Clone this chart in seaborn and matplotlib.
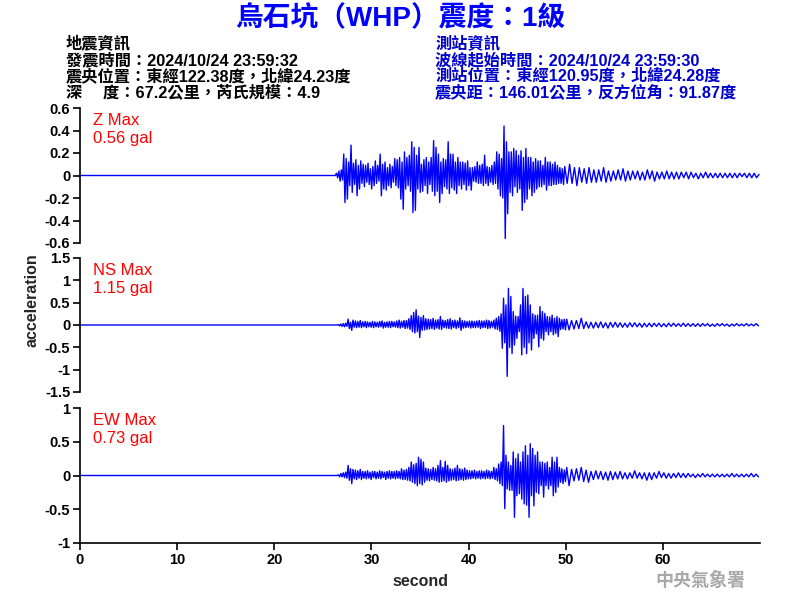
import numpy as np
import pandas as pd
import matplotlib
matplotlib.use("Agg")
import matplotlib.pyplot as plt
import seaborn as sns

# ---------------- data (peak accelerations, unit: 0.01 gal) ----------------
# strong-motion part sampled every 0.125 s, coda every 0.25 s
dt_dense = 0.125
dt_coda = 0.25

z_onset, z_coda_start = 26.4, 50.15
ns_onset, ns_coda_start = 26.6, 50.1
ew_onset, ew_coda_start = 26.6, 50.1

z_dense = [2, -2, 4, -5, 5, -4, 19, -24,
           15, -21, 12, -9, 27, -15, 11, -8,
           14, -18, 9, -12, 13, -7, 10, -10,
           9, -6, 11, -8, 6, -12, 8, -9,
           13, -7, 9, -5, 19, -18, 10, -12,
           12, -13, 7, -9, 10, -11, 8, -6,
           15, -9, 14, -11, 16, -21, 12, -30,
           21, -12, 16, -9, 18, -14, 30, -33,
           25, -31, 18, -12, 25, -15, 10, -14,
           14, -9, 16, -16, 12, -8, 16, -14,
           31, -18, 25, -14, 19, -24, 12, -16,
           15, -10, 14, -12, 30, -16, 19, -11,
           19, -13, 12, -16, 16, -9, 12, -12,
           12, -8, 11, -13, 13, -9, 7, -13,
           7, -5, 8, -6, 12, -7, 9, -7,
           10, -9, 18, -7, 8, -9, 7, -6,
           9, -8, 12, -7, 21, -12, 19, -18,
           15, -20, 44, -56, 30, -34, 21, -15,
           21, -18, 24, -10, 22, -15, 18, -12,
           22, -31, 16, -24, 24, -21, 16, -12,
           16, -18, 12, -15, 15, -12, 13, -10,
           13, -10, 9, -8, 16, -13, 12, -9,
           12, -9, 10, -8, 12, -8, 9, -7,
           7, -7, 6, -8, 8]
z_coda = [-7, 10, -7, 7, -9, 7, -6, 6, -7, 7, -6, 5, -6, 5, -5, 7, -6, 4, -5, 4,
          -4, 5, -4, 6, -5, 4, -4, 4, -3, 4, -4, 3, -4, 5, -3, 4, -5, 3, -3, 3,
          -3, 4, -3, 3, -3, 3, -3, 3, -2, 3, -3, 3, -2, 2, -3, 2, -2, 3, -2, 2,
          -2, 2, -2, 2, -2, 2, -2, 2, -2, 2, -2, 2, -1, 2, -2, 2, -2, 2, -2, 1]

ns_dense = [1, -2, 2, -3, 3, -4, 4, -3,
            13, -8, 6, -12, 11, -5, 9, -6,
            8, -5, 10, -6, 7, -4, 8, -6,
            7, -4, 6, -5, 8, -6, 7, -4,
            6, -5, 8, -4, 9, -7, 6, -5,
            7, -5, 8, -6, 8, -4, 7, -5,
            9, -6, 11, -7, 8, -5, 10, -8,
            10, -7, 14, -10, 21, -15, 28, -18,
            34, -15, 20, -28, 17, -12, 21, -11,
            14, -10, 13, -9, 12, -8, 15, -10,
            11, -7, 12, -9, 19, -10, 11, -6,
            10, -7, 12, -8, 14, -9, 10, -6,
            11, -8, 9, -6, 16, -12, 10, -7,
            9, -6, 8, -5, 9, -7, 9, -6,
            8, -6, 9, -5, 10, -8, 9, -6,
            9, -6, 11, -8, 10, -7, 8, -5,
            11, -9, 15, -10, 19, -14, 25, -52,
            60, -40, 45, -115, 82, -50, 64, -64,
            30, -45, 20, -30, 19, -15, 45, -67,
            82, -50, 64, -64, 67, -40, 45, -56,
            25, -30, 22, -20, 22, -49, 41, -30,
            30, -34, 26, -15, 19, -22, 18, -15,
            22, -22, 15, -19, 19, -26, 15, -10,
            12, -9, 13, -11]
ns_coda = [13, -11, 10, -9, 10, -8, 15, -8, 7, -7, 6, -7, 6, -6, 7, -6, 5, -7, 6, -5,
           6, -5, 5, -5, 4, -5, 5, -4, 5, -4, 4, -5, 4, -4, 4, -4, 4, -3, 4, -4,
           3, -4, 4, -3, 4, -3, 3, -3, 4, -3, 3, -3, 3, -3, 3, -3, 3, -2, 3, -3,
           2, -3, 3, -2, 3, -2, 2, -3, 2, -2, 3, -2, 2, -2, 3, -2, 2, -2, 3, -2]

ew_dense = [1, -2, 3, -2, 4, -3, 5, -4,
            15, -7, 10, -12, 9, -5, 8, -6,
            7, -4, 9, -6, 6, -4, 6, -5,
            7, -4, 5, -6, 6, -3, 6, -5,
            5, -4, 7, -5, 6, -3, 5, -6,
            6, -4, 7, -5, 6, -4, 6, -5,
            7, -4, 6, -5, 10, -6, 8, -6,
            9, -7, 12, -8, 20, -10, 16, -12,
            18, -15, 27, -12, 24, -14, 20, -10,
            11, -7, 10, -8, 9, -6, 12, -7,
            10, -8, 15, -10, 22, -9, 12, -8,
            21, -10, 15, -8, 10, -7, 9, -6,
            11, -8, 15, -7, 10, -6, 9, -7,
            11, -6, 8, -5, 7, -5, 7, -4,
            8, -5, 6, -4, 7, -5, 7, -4,
            6, -5, 8, -4, 7, -5, 6, -4,
            12, -6, 10, -8, 17, -12, 20, -15,
            74, -49, 30, -20, 20, -22, 15, -22,
            35, -62, 25, -30, 32, -27, 20, -35,
            35, -42, 44, -44, 30, -62, 47, -30,
            40, -45, 30, -25, 35, -27, 20, -15,
            20, -32, 18, -15, 20, -20, 12, -15,
            27, -30, 20, -25, 27, -17, 12, -10,
            10, -12, 8, -9]
ew_coda = [12, -15, 9, -8, 10, -7, 12, -9, 8, -10, 6, -6, 7, -5, 6, -6, 5, -7, 6, -6,
           5, -5, 6, -5, 4, -5, 4, -4, 7, -4, 4, -5, 4, -7, 4, -6, 4, -4, 6, -3,
           4, -4, 3, -4, 3, -3, 4, -3, 3, -3, 3, -2, 2, -3, 2, -2, 3, -2, 2, -2,
           2, -2, 2, -2, 2, -2, 2, -2, 3, -2, 2, -2, 2, -2, 2, -2, 3, -2, 2, -2]

components = ["Z", "NS", "EW"]
max_text = ["Z Max\n0.56 gal", "NS Max\n1.15 gal", "EW Max\n0.73 gal"]
y_limits = [(-0.6, 0.6), (-1.5, 1.5), (-1.0, 1.0)]
y_ticks = [[0.6, 0.4, 0.2, 0, -0.2, -0.4, -0.6],
           [1.5, 1, 0.5, 0, -0.5, -1, -1.5],
           [1, 0.5, 0, -0.5, -1]]
x_ticks = [0, 10, 20, 30, 40, 50, 60]

title = "烏石坑（WHP）震度：1級"
quake_info = ["地震資訊",
              "發震時間：2024/10/24 23:59:32",
              "震央位置：東經122.38度，北緯24.23度",
              "深\u3000 度：67.2公里，芮氏規模：4.9"]
station_info = ["測站資訊",
                "波線起始時間：2024/10/24 23:59:30",
                "測站位置：東經120.95度，北緯24.28度",
                "震央距：146.01公里，反方位角：91.87度"]
agency = "中央氣象署"


def trace_frame(onset, dense, coda_start, coda):
    t = np.concatenate([[0.0, onset - dt_dense],
                        onset + dt_dense * np.arange(len(dense)),
                        coda_start + dt_coda * np.arange(len(coda))])
    a = np.concatenate([[0.0, 0.0], np.asarray(dense, float), np.asarray(coda, float)]) / 100.0
    return pd.DataFrame({"second": t, "acceleration": a})


frames = [trace_frame(z_onset, z_dense, z_coda_start, z_coda),
          trace_frame(ns_onset, ns_dense, ns_coda_start, ns_coda),
          trace_frame(ew_onset, ew_dense, ew_coda_start, ew_coda)]

# ---------------- styling ----------------
sns.set_theme(style="ticks")
FAM = ["Liberation Sans", "Noto Sans CJK TC", "DejaVu Sans"]
plt.rcParams["font.family"] = FAM
plt.rcParams["axes.unicode_minus"] = False

fig = plt.figure(figsize=(8, 6), dpi=100)
rects = [[0.10, 0.595, 0.85, 0.225],
         [0.10, 0.3467, 0.85, 0.2233],
         [0.10, 0.095, 0.85, 0.225]]

for i, (df, rect) in enumerate(zip(frames, rects)):
    ax = fig.add_axes(rect)
    sns.lineplot(data=df, x="second", y="acceleration", ax=ax, color="#0000ff",
                 lw=1.0, estimator=None, sort=False)
    ax.set_xlim(0, 70)
    ax.set_ylim(*y_limits[i])
    ax.set_yticks(y_ticks[i])
    ax.set_yticklabels([("%g" % v) for v in y_ticks[i]])
    ax.set_xlabel("")
    ax.set_ylabel("")
    for s in ["top", "right"]:
        ax.spines[s].set_visible(False)
    ax.spines["left"].set_color("black")
    ax.spines["left"].set_linewidth(1.2)
    ax.tick_params(axis="y", direction="out", length=5, width=1.2, colors="black", pad=2)
    for lab in ax.get_yticklabels():
        lab.set_fontweight("bold")
        lab.set_fontsize(10.5)
    if i < 2:
        ax.spines["bottom"].set_visible(False)
        ax.set_xticks([])
    else:
        ax.spines["bottom"].set_color("black")
        ax.spines["bottom"].set_linewidth(1.2)
        ax.set_xticks(x_ticks)
        ax.tick_params(axis="x", direction="out", length=5, width=1.2, colors="black", pad=2)
        for lab in ax.get_xticklabels():
            lab.set_fontweight("bold")
            lab.set_fontsize(10.5)
        ax.set_xlabel("second", fontsize=11.5, fontweight="bold", labelpad=5)
    ax.set_facecolor("white")
    ax.text(0.019, 0.965, max_text[i], transform=ax.transAxes, color="#ff0000",
            fontsize=12, va="top", ha="left", linespacing=1.3)

fig.text(0.04, 0.5, "acceleration", rotation=90, fontsize=11.5, fontweight="bold",
         ha="center", va="center")

fig.text(0.5, 0.968, title, color="#0000ff", fontsize=20, fontweight="bold",
         ha="center", va="center", family=["Liberation Sans", "Noto Sans CJK TC"])

ys = [0.927, 0.900, 0.873, 0.846]
for line, y in zip(quake_info, ys):
    fig.text(0.082, y, line, color="black", fontsize=11.7, fontweight="bold",
             ha="left", va="center", family=FAM)
for line, y in zip(station_info, ys):
    fig.text(0.544, y, line, color="#0000cc", fontsize=11.7, fontweight="bold",
             ha="left", va="center", family=FAM)

fig.text(0.876, 0.033, agency, color="#a8a8a8", fontsize=13, fontweight="bold",
         ha="center", va="center", family=["Noto Sans CJK TC"])

fig.savefig("out.png", dpi=100, facecolor="white")
